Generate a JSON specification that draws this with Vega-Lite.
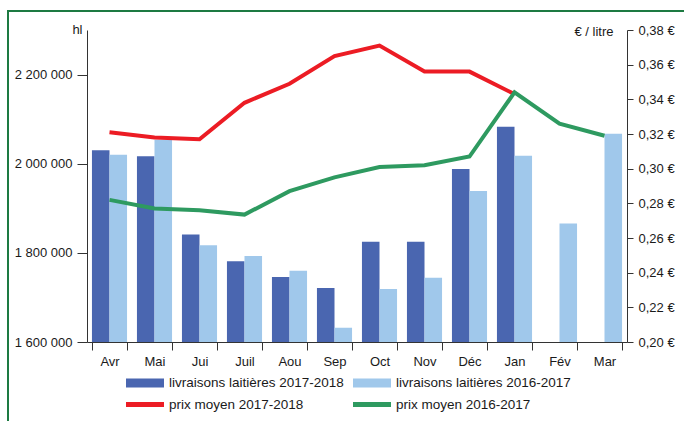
{
  "$schema": "https://vega.github.io/schema/vega-lite/v6.json",
  "width": 680,
  "height": 414,
  "autosize": {"type": "none"},
  "padding": {"left": 8, "top": 11, "right": -4, "bottom": -4},
  "background": "white",
  "config": {
    "font": "Liberation Sans",
    "locale": {"number": {"decimal": ",", "thousands": " ", "grouping": [3], "currency": ["", " €"]}},
    "view": {"stroke": "#1d7a42", "strokeWidth": 2},
    "axis": {"labelFont": "Liberation Sans", "labelFontSize": 13, "labelColor": "#1a1a1a", "domainColor": "#333333", "tickColor": "#333333", "grid": false, "titleFont": "Liberation Sans", "titleFontSize": 13, "titleFontWeight": "normal", "titleColor": "#1a1a1a"}
  },
  "datasets": {
    "livraisons": [
      {"mois": "Avr", "serie": "livraisons laitières 2017-2018", "valeur": 2030000},
      {"mois": "Mai", "serie": "livraisons laitières 2017-2018", "valeur": 2017000},
      {"mois": "Jui", "serie": "livraisons laitières 2017-2018", "valeur": 1841000},
      {"mois": "Juil", "serie": "livraisons laitières 2017-2018", "valeur": 1781000},
      {"mois": "Aou", "serie": "livraisons laitières 2017-2018", "valeur": 1746000},
      {"mois": "Sep", "serie": "livraisons laitières 2017-2018", "valeur": 1721000},
      {"mois": "Oct", "serie": "livraisons laitières 2017-2018", "valeur": 1825000},
      {"mois": "Nov", "serie": "livraisons laitières 2017-2018", "valeur": 1825000},
      {"mois": "Déc", "serie": "livraisons laitières 2017-2018", "valeur": 1988000},
      {"mois": "Jan", "serie": "livraisons laitières 2017-2018", "valeur": 2083000},
      {"mois": "Avr", "serie": "livraisons laitières 2016-2017", "valeur": 2020000},
      {"mois": "Mai", "serie": "livraisons laitières 2016-2017", "valeur": 2054000},
      {"mois": "Jui", "serie": "livraisons laitières 2016-2017", "valeur": 1817000},
      {"mois": "Juil", "serie": "livraisons laitières 2016-2017", "valeur": 1793000},
      {"mois": "Aou", "serie": "livraisons laitières 2016-2017", "valeur": 1760000},
      {"mois": "Sep", "serie": "livraisons laitières 2016-2017", "valeur": 1632000},
      {"mois": "Oct", "serie": "livraisons laitières 2016-2017", "valeur": 1719000},
      {"mois": "Nov", "serie": "livraisons laitières 2016-2017", "valeur": 1744000},
      {"mois": "Déc", "serie": "livraisons laitières 2016-2017", "valeur": 1939000},
      {"mois": "Jan", "serie": "livraisons laitières 2016-2017", "valeur": 2018000},
      {"mois": "Fév", "serie": "livraisons laitières 2016-2017", "valeur": 1866000},
      {"mois": "Mar", "serie": "livraisons laitières 2016-2017", "valeur": 2067000}
    ],
    "prix": [
      {"mois": "Avr", "serie": "prix moyen 2017-2018", "valeur": 0.321},
      {"mois": "Mai", "serie": "prix moyen 2017-2018", "valeur": 0.318},
      {"mois": "Jui", "serie": "prix moyen 2017-2018", "valeur": 0.317},
      {"mois": "Juil", "serie": "prix moyen 2017-2018", "valeur": 0.338},
      {"mois": "Aou", "serie": "prix moyen 2017-2018", "valeur": 0.349},
      {"mois": "Sep", "serie": "prix moyen 2017-2018", "valeur": 0.365},
      {"mois": "Oct", "serie": "prix moyen 2017-2018", "valeur": 0.371},
      {"mois": "Nov", "serie": "prix moyen 2017-2018", "valeur": 0.356},
      {"mois": "Déc", "serie": "prix moyen 2017-2018", "valeur": 0.356},
      {"mois": "Jan", "serie": "prix moyen 2017-2018", "valeur": 0.343},
      {"mois": "Avr", "serie": "prix moyen 2016-2017", "valeur": 0.282},
      {"mois": "Mai", "serie": "prix moyen 2016-2017", "valeur": 0.277},
      {"mois": "Jui", "serie": "prix moyen 2016-2017", "valeur": 0.276},
      {"mois": "Juil", "serie": "prix moyen 2016-2017", "valeur": 0.2735},
      {"mois": "Aou", "serie": "prix moyen 2016-2017", "valeur": 0.287},
      {"mois": "Sep", "serie": "prix moyen 2016-2017", "valeur": 0.295},
      {"mois": "Oct", "serie": "prix moyen 2016-2017", "valeur": 0.301},
      {"mois": "Nov", "serie": "prix moyen 2016-2017", "valeur": 0.302},
      {"mois": "Déc", "serie": "prix moyen 2016-2017", "valeur": 0.307},
      {"mois": "Jan", "serie": "prix moyen 2016-2017", "valeur": 0.344},
      {"mois": "Fév", "serie": "prix moyen 2016-2017", "valeur": 0.326},
      {"mois": "Mar", "serie": "prix moyen 2016-2017", "valeur": 0.319}
    ]
  },
  "layer": [
    {
      "data": {"name": "livraisons"},
      "mark": {"type": "bar"},
      "encoding": {
        "x": {
          "field": "mois", "type": "nominal",
          "sort": ["Avr", "Mai", "Jui", "Juil", "Aou", "Sep", "Oct", "Nov", "Déc", "Jan", "Fév", "Mar"],
          "scale": {"range": [79, 619], "paddingInner": 0.22, "paddingOuter": 0.11},
          "axis": {"title": null, "orient": "bottom", "offset": -83, "tickBand": "extent", "tickSize": 8, "labelPadding": 5, "labelAngle": 0}
        },
        "xOffset": {"field": "serie", "type": "nominal", "sort": ["livraisons laitières 2017-2018", "livraisons laitières 2016-2017"]},
        "y": {
          "field": "valeur", "type": "quantitative",
          "scale": {"domain": [1600000, 2300000], "nice": false, "zero": false, "range": [331, 19]},
          "axis": {"title": "hl", "orient": "left", "offset": -79, "values": [1600000, 1800000, 2000000, 2200000], "format": ",d", "tickSize": 10, "labelPadding": 5, "titleAngle": 0, "titleAlign": "right", "titleBaseline": "alphabetic", "titleX": -5, "titleY": 22}
        },
        "y2": {"datum": 1600000},
        "color": {
          "field": "serie", "type": "nominal",
          "scale": {
            "domain": ["livraisons laitières 2017-2018", "livraisons laitières 2016-2017", "prix moyen 2017-2018", "prix moyen 2016-2017"],
            "range": ["#4a66b0", "#a0c8eb", "#ec1c24", "#2e9a60"]
          },
          "legend": {
            "title": null, "orient": "none", "legendX": 118, "legendY": 365,
            "columns": 2, "direction": "horizontal", "padding": 0,
            "symbolType": "M-1,-0.24H1V0.24H-1Z", "symbolSize": 1444, "symbolStrokeWidth": 0,
            "labelFont": "Liberation Sans", "labelFontSize": 13.5, "labelColor": "#1a1a1a", "labelLimit": 300, "labelOffset": 5,
            "columnPadding": 9, "rowPadding": 7.5, "clipHeight": 14,
            "encode": {
              "symbols": {
                "update": {
                  "shape": [
                    {"test": "indexof(datum.value, 'prix') >= 0", "value": "M-1,-0.13H1V0.13H-1Z"},
                    {"value": "M-1,-0.24H1V0.24H-1Z"}
                  ],
                  "fill": {"scale": "color", "field": "value"},
                  "stroke": {"value": "transparent"},
                  "opacity": {"value": 1}
                }
              }
            }
          }
        }
      }
    },
    {
      "layer": [
        {
          "data": {"name": "prix"},
          "transform": [{"filter": "datum.serie == 'prix moyen 2017-2018'"}],
          "mark": {"type": "line", "strokeWidth": 4},
          "encoding": {
            "x": {"field": "mois", "type": "nominal", "sort": ["Avr", "Mai", "Jui", "Juil", "Aou", "Sep", "Oct", "Nov", "Déc", "Jan", "Fév", "Mar"]},
            "y": {
              "field": "valeur", "type": "quantitative",
              "scale": {"domain": [0.2, 0.38], "nice": false, "zero": false, "range": [331, 19]},
              "axis": {"title": "€ / litre", "orient": "right", "offset": -61, "values": [0.2, 0.22, 0.24, 0.26, 0.28, 0.3, 0.32, 0.34, 0.36, 0.38], "format": "$.2f", "tickSize": 6, "labelPadding": 5, "titleAngle": 0, "titleAlign": "right", "titleBaseline": "alphabetic", "titleX": -14, "titleY": 24}
            },
            "color": {"field": "serie", "type": "nominal"}
          }
        },
        {
          "data": {"name": "prix"},
          "transform": [{"filter": "datum.serie == 'prix moyen 2016-2017'"}],
          "mark": {"type": "line", "strokeWidth": 4},
          "encoding": {
            "x": {"field": "mois", "type": "nominal", "sort": ["Avr", "Mai", "Jui", "Juil", "Aou", "Sep", "Oct", "Nov", "Déc", "Jan", "Fév", "Mar"]},
            "y": {"field": "valeur", "type": "quantitative"},
            "color": {"field": "serie", "type": "nominal"}
          }
        }
      ]
    }
  ],
  "resolve": {"scale": {"y": "independent"}}
}
